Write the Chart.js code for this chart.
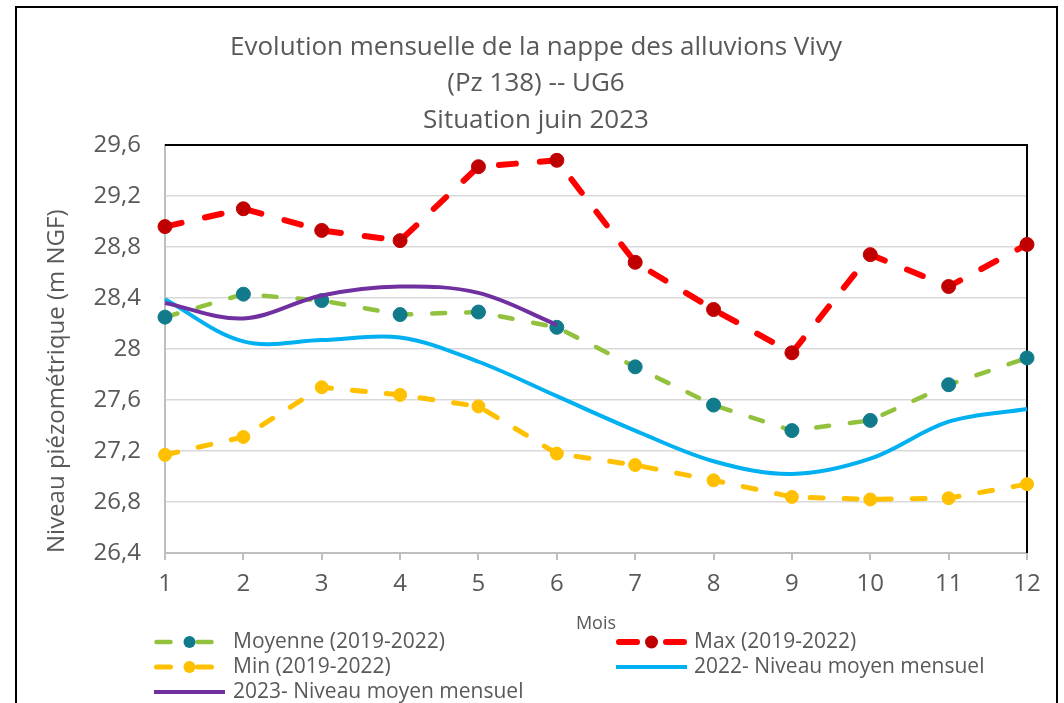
<!DOCTYPE html>
<html><head><meta charset="utf-8">
<script src="https://cdn.jsdelivr.net/npm/chart.js@4"></script>
<style>html,body{margin:0;padding:0;background:#fff;} canvas{display:block;}</style>
</head><body>
<canvas id="c" width="1064" height="703"></canvas>
<script>
const months = ['1','2','3','4','5','6','7','8','9','10','11','12'];
const titleLines = ['Evolution mensuelle de la nappe des alluvions Vivy', '(Pz 138) -- UG6', 'Situation juin 2023'];
const seriesNames = ['Moyenne (2019-2022)', 'Max (2019-2022)', 'Min (2019-2022)', '2022- Niveau moyen mensuel', '2023- Niveau moyen mensuel'];
const moyenne = [28.25, 28.43, 28.38, 28.27, 28.29, 28.17, 27.86, 27.56, 27.36, 27.44, 27.72, 27.93];
const maxi    = [28.96, 29.10, 28.93, 28.85, 29.43, 29.48, 28.68, 28.31, 27.97, 28.74, 28.49, 28.82];
const mini    = [27.17, 27.31, 27.70, 27.64, 27.55, 27.18, 27.09, 26.97, 26.84, 26.82, 26.83, 26.94];
const niveau2022 = [28.39, 28.06, 28.07, 28.09, 27.90, 27.63, 27.36, 27.12, 27.02, 27.14, 27.43, 27.53];
const niveau2023 = [28.36, 28.24, 28.42, 28.49, 28.44, 28.19];
const yMin = 26.4, yMax = 29.6, yStep = 0.4;
const yTitle = 'Niveau piézométrique (m NGF)';
const xTitle = 'Mois';

const FONT = "'Open Sans', 'Noto Sans', sans-serif";
const TEXT = '#595959';

const framePlugin = {
  id: 'frame',
  beforeDatasetsDraw(chart) {
    const {ctx, chartArea: a} = chart;
    ctx.save();
    ctx.strokeStyle = '#000';
    ctx.lineWidth = 2;
    ctx.beginPath();
    ctx.moveTo(a.left, a.top);
    ctx.lineTo(a.right, a.top);
    ctx.lineTo(a.right, a.bottom);
    ctx.stroke();
    ctx.restore();
  },
  afterDraw(chart) {
    const {ctx} = chart;
    ctx.save();
    ctx.strokeStyle = '#000';
    ctx.lineWidth = 2;
    ctx.strokeRect(16, 7, 1041, 730);
    ctx.restore();
  }
};

const legendLayout = [
  {ds: 0, x0: 154, x1: 225, y: 642, tx: 233, dash: [14, 27], inset: 2.5, r: 6},
  {ds: 1, x0: 616, x1: 687, y: 642, tx: 694, dash: [18, 29], inset: 3, r: 6.5},
  {ds: 2, x0: 154, x1: 225, y: 667, tx: 233, dash: [14, 27], inset: 2.5, r: 6},
  {ds: 3, x0: 616, x1: 687, y: 667, tx: 694, dash: [], inset: 0, r: 0},
  {ds: 4, x0: 154, x1: 225, y: 692, tx: 233, dash: [], inset: 0, r: 0}
];

const legendPlugin = {
  id: 'customLegend',
  afterDraw(chart) {
    const {ctx} = chart;
    ctx.save();
    legendLayout.forEach(it => {
      const ds = chart.data.datasets[it.ds];
      ctx.strokeStyle = ds.borderColor;
      ctx.lineWidth = ds.borderWidth;
      ctx.lineCap = it.dash.length ? 'round' : 'butt';
      ctx.setLineDash(it.dash);
      ctx.beginPath();
      ctx.moveTo(it.x0 + it.inset, it.y);
      ctx.lineTo(it.x1 - it.inset, it.y);
      ctx.stroke();
      ctx.setLineDash([]);
      if (it.r > 0) {
        ctx.fillStyle = ds.pointBackgroundColor;
        ctx.beginPath();
        ctx.arc((it.x0 + it.x1) / 2, it.y, it.r, 0, Math.PI * 2);
        ctx.fill();
      }
      ctx.fillStyle = TEXT;
      ctx.font = '21px ' + FONT;
      ctx.textBaseline = 'middle';
      ctx.textAlign = 'left';
      ctx.fillText(ds.label, it.tx, it.y);
    });
    ctx.restore();
  }
};

const fmt = v => String(Math.round(v * 10) / 10).replace('.', ',');

new Chart(document.getElementById('c'), {
  type: 'line',
  data: {
    labels: months,
    datasets: [
      {label: seriesNames[0], data: moyenne, borderColor: '#92c13e', borderWidth: 4.5, borderDash: [13, 21], borderCapStyle: 'round',
       pointBackgroundColor: '#117a8b', pointBorderColor: '#117a8b', pointRadius: 7, pointBorderWidth: 1, tension: 0, clip: false, order: 4},
      {label: seriesNames[1], data: maxi, borderColor: '#ff0000', borderWidth: 6, borderDash: [17, 24], borderCapStyle: 'round',
       pointBackgroundColor: '#c00000', pointBorderColor: '#c00000', pointRadius: 7, pointBorderWidth: 1, tension: 0, clip: false, order: 3},
      {label: seriesNames[2], data: mini, borderColor: '#ffc000', borderWidth: 5, borderDash: [13, 21], borderCapStyle: 'round',
       pointBackgroundColor: '#ffc000', pointBorderColor: '#ffc000', pointRadius: 6.5, pointBorderWidth: 1, tension: 0, clip: false, order: 2},
      {label: seriesNames[3], data: niveau2022, borderColor: '#00b0f0', borderWidth: 4, pointRadius: 0, tension: 0.35, clip: false, order: 1},
      {label: seriesNames[4], data: niveau2023, borderColor: '#7030a0', borderWidth: 4, pointRadius: 0, tension: 0.35, clip: false, order: 0}
    ]
  },
  options: {
    responsive: false,
    animation: false,
    devicePixelRatio: 1,
    events: [],
    layout: {padding: {left: 45, right: 37, top: 0, bottom: 70}},
    plugins: {
      legend: {display: false},
      tooltip: {enabled: false},
      title: {
        display: true, text: titleLines, color: TEXT,
        font: {family: FONT, size: 26, weight: 'normal', lineHeight: '36.5px'},
        padding: {top: 29, bottom: 6.5}
      }
    },
    scales: {
      x: {
        offset: false,
        ticks: {color: TEXT, font: {family: FONT, size: 24}, padding: 10, maxRotation: 0, autoSkip: false},
        grid: {display: true, drawOnChartArea: false, drawTicks: true, tickLength: 7, color: '#bfbfbf', lineWidth: 2},
        border: {color: '#bfbfbf', width: 2},
        title: {display: true, text: xTitle, color: TEXT, font: {family: FONT, size: 18, lineHeight: 1}, padding: {top: 0, bottom: 0}},
        afterFit: s => { s.height = 80; }
      },
      y: {
        min: yMin, max: yMax,
        ticks: {stepSize: yStep, color: TEXT, font: {family: FONT, size: 24}, padding: 24, callback: v => fmt(v)},
        grid: {color: '#d9d9d9', lineWidth: 1.5, drawTicks: false},
        border: {color: '#bfbfbf', width: 2},
        title: {display: true, text: yTitle, align: 'start', color: TEXT, font: {family: FONT, size: 24, lineHeight: 1}, padding: {top: 0, bottom: 0}},
        afterFit: s => { s.width = 120; }
      }
    }
  },
  plugins: [framePlugin, legendPlugin]
});
</script>
</body></html>
